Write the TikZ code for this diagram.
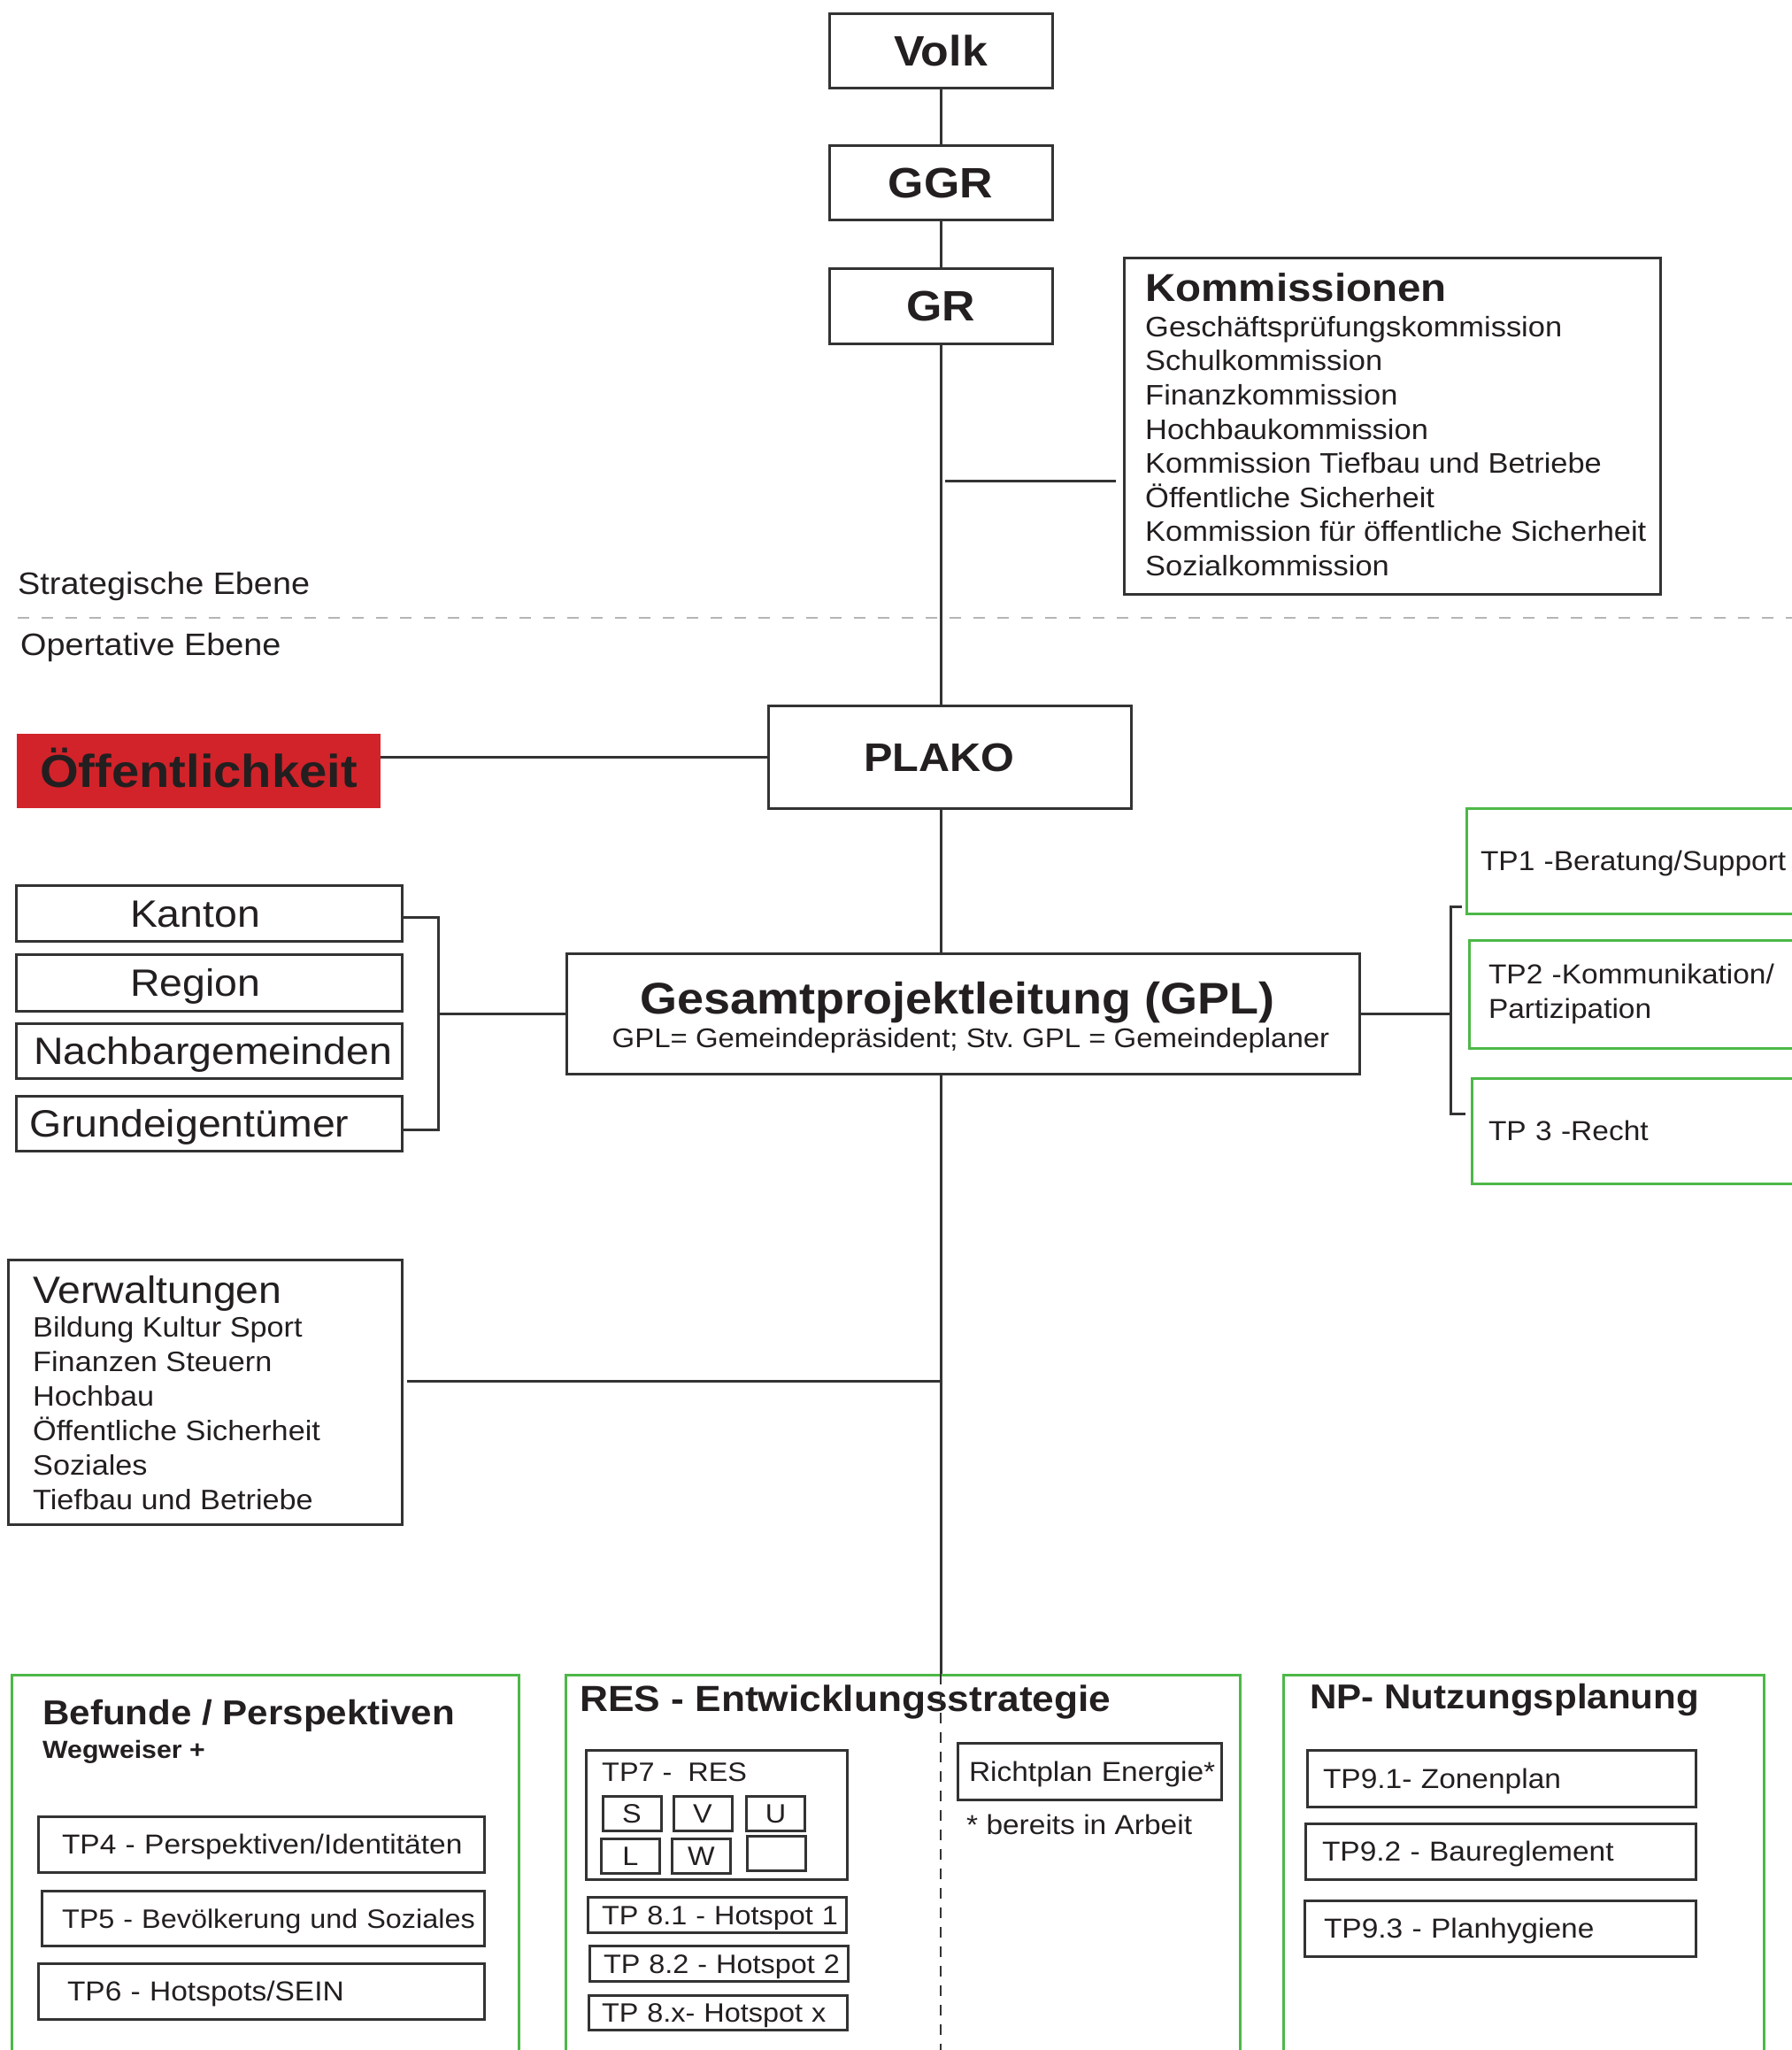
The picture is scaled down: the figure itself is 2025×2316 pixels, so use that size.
\documentclass[tikz,border=0pt]{standalone}
\usepackage{fontspec}
\setmainfont{Liberation Sans}[FakeStretch=1.08]
\frenchspacing
\hyphenpenalty=10000
\exhyphenpenalty=10000

\definecolor{ink}{HTML}{231F20}
\definecolor{frame}{HTML}{333333}
\definecolor{tpgreen}{HTML}{4DB848}
\definecolor{plred}{HTML}{D2232A}
\definecolor{levelgray}{HTML}{B5B5B5}

\newcommand{\fsz}[2]{\fontsize{#1pt}{#2pt}\selectfont}

\tikzset{
  linebox/.style={draw=frame, line width=3pt, inner sep=0pt, text=ink},
  greenframe/.style={draw=tpgreen, line width=3pt, inner sep=0pt},
  topbox/.style={linebox, minimum width=252pt, font=\bfseries\fsz{48}{56}, text height=34pt, text depth=0pt},
  sidebox/.style={linebox, align=left, font=\fsz{43}{50}, text height=31pt, text depth=0pt},
  greenbox/.style={greenframe, text=ink, align=left, inner ysep=0pt, font=\fsz{31}{39}},
  tpbox/.style={linebox, align=left, inner ysep=0pt, font=\fsz{31}{38}, text height=22pt, text depth=0pt},
  plain/.style={inner sep=0pt, text=ink},
  conn/.style={draw=frame, line width=3pt},
  levelline/.style={draw=levelgray, line width=2pt, dash pattern=on 13pt off 14pt},
  spinedash/.style={draw=frame, line width=1.8pt, dash pattern=on 12pt off 10pt}
}

\begin{document}
\begin{tikzpicture}[x=1pt, y=-1pt]
  \useasboundingbox (0,0) rectangle (2025,2316);

  % strategische Ebene
  \node[topbox, minimum height=84pt] (volk) at (1063,57) {Volk};
  \node[topbox, minimum height=84pt] (ggr) at (1063,206) {GGR};
  \node[topbox, minimum height=85pt] (gr) at (1063,345.5) {GR};

  \node[linebox, minimum width=606pt, minimum height=380pt] (komm) at (1573,481) {};
  \node[plain, anchor=base west, font=\bfseries\fsz{44}{50}] (kommtitle) at (1294,340) {Kommissionen};
  \node[plain, anchor=north west, align=left, font=\fsz{31.9}{38.6}] (kommlist) at (1294,357)
    {Geschäftsprüfungskommission\\Schulkommission\\Finanzkommission\\Hochbaukommission\\
     Kommission Tiefbau und Betriebe\\Öffentliche Sicherheit\\
     Kommission für öffentliche Sicherheit\\Sozialkommission};

  \node[plain, anchor=base west, font=\fsz{35}{42}] (strat) at (20,671) {Strategische Ebene};
  \node[plain, anchor=base west, font=\fsz{35}{42}] (oper) at (23,740) {Opertative Ebene};
  \draw[levelline] (20,698) -- (2025,698);

  % operative Ebene
  \node[linebox, align=left, font=\bfseries\fsz{45}{54}, text height=32pt, text depth=0pt,
        inner xsep=108pt, text width=194pt, minimum height=116pt] (plako) at (1073,855) {PLAKO};
  \node[fill=plred, inner sep=0pt, text=ink, minimum width=411pt, minimum height=84pt,
        font=\bfseries\fsz{52}{60}, text height=37pt, text depth=0pt] (oeff) at (224.5,871) {Öffentlichkeit};

  \node[linebox, minimum width=896pt, minimum height=136pt] (gpl) at (1088,1145.5) {};
  \node[plain, anchor=base, font=\bfseries\fsz{50}{60}] (gpltitle) at (1082,1145) {Gesamtprojektleitung (GPL)};
  \node[plain, anchor=base, font=\fsz{30.5}{37}] (gplsub) at (1097,1183) {GPL= Gemeindepräsident; Stv. GPL = Gemeindeplaner};

  \node[sidebox, inner xsep=129pt, text width=178pt, minimum height=63pt] (kanton) at (236,1031.5) {Kanton};
  \node[sidebox, inner xsep=129pt, text width=178pt, minimum height=64pt] (region) at (236,1110) {Region};
  \node[sidebox, inner xsep=20pt, text width=396pt, minimum height=62pt] (nachbar) at (236,1187) {\mbox{Nachbargemeinden}};
  \node[sidebox, inner xsep=15pt, text width=406pt, minimum height=62pt] (grund) at (236,1269) {Grundeigentümer};

  \node[greenbox, inner xsep=16pt, text width=388pt, minimum height=119pt, text height=22pt, text depth=0pt] (tp1) at (1867,972.5) {TP1 -Beratung/Support};
  \node[greenbox, inner xsep=22pt, text width=376pt, minimum height=122pt] (tp2) at (1870,1123) {TP2 -Kommunikation/\\Partizipation};
  \node[greenbox, inner xsep=19pt, text width=382pt, minimum height=119pt, text height=22pt, text depth=0pt] (tp3) at (1873,1277.5) {TP 3 -Recht};

  \node[linebox, minimum width=445pt, minimum height=299pt] (verw) at (231.5,1572.5) {};
  \node[plain, anchor=base west, font=\fsz{43}{50}] (verwtitle) at (37,1472) {Verwaltungen};
  \node[plain, anchor=north west, align=left, font=\fsz{31.7}{39}] (verwlist) at (37,1487)
    {Bildung Kultur Sport\\Finanzen Steuern\\Hochbau\\Öffentliche Sicherheit\\Soziales\\Tiefbau und Betriebe};

  % Teilprojekte unten
  \node[greenframe, minimum width=573pt, minimum height=448pt] (befunde) at (299.5,2116) {};
  \node[plain, anchor=base west, font=\bfseries\fsz{39}{46}] (befundetitle) at (48,1948) {Befunde / Perspektiven};
  \node[plain, anchor=base west, font=\bfseries\fsz{28}{34}] (wegweiser) at (48,1986) {Wegweiser +};
  \node[tpbox, minimum height=63pt, inner xsep=27pt, text width=450pt] (tp4) at (295,2083.5) {\mbox{TP4 - Perspektiven/Identitäten}};
  \node[tpbox, font=\fsz{30}{38}, minimum height=62pt, inner xsep=23pt, text width=454pt] (tp5) at (297,2167) {\mbox{TP5 - Bevölkerung und Soziales}};
  \node[tpbox, minimum height=63pt, inner xsep=33pt, text width=438pt] (tp6) at (295,2249.5) {TP6 - Hotspots/SEIN};

  \node[greenframe, minimum width=762pt, minimum height=448pt] (res) at (1020,2116) {};
  \node[plain, anchor=base west, font=\bfseries\fsz{41}{48}] (restitle) at (655,1933) {RES - Entwicklungsstrategie};
  \node[linebox, minimum width=295pt, minimum height=146pt] (tp7) at (809.5,2050) {};
  \node[plain, anchor=base west, font=\fsz{30}{36}] (tp7title) at (680,2012) {TP7 -\ \ RES};
  \foreach \nm/\cx/\cy/\txt in {s/714/2048.5/S, v/794/2048.5/V, u/876.5/2048.5/U,
                                l/712.5/2096.5/L, w/792.5/2096.5/W, e/877.5/2093.5/{}}
    \node[linebox, minimum width=66pt, minimum height=39pt, font=\fsz{30}{36}, text height=21pt, text depth=0pt] (res\nm) at (\cx,\cy) {\txt};
  \node[tpbox, font=\fsz{30}{36}, minimum height=40pt, inner xsep=16pt, text width=260pt] (tp81) at (810,2163) {\mbox{TP 8.1 - Hotspot 1}};
  \node[tpbox, font=\fsz{30}{36}, minimum height=40pt, inner xsep=16pt, text width=260pt] (tp82) at (812,2218) {\mbox{TP 8.2 - Hotspot 2}};
  \node[tpbox, font=\fsz{30}{36}, minimum height=39pt, inner xsep=15pt, text width=262pt] (tp8x) at (811,2273.5) {\mbox{TP 8.x- Hotspot x}};
  \node[tpbox, minimum height=64pt, inner xsep=13pt, text width=272pt] (richtplan) at (1231,2001) {\mbox{Richtplan Energie*}};
  \node[plain, anchor=base west, font=\fsz{31}{37}] (resnote) at (1092,2072) {* bereits in Arbeit};

  \node[greenframe, minimum width=543pt, minimum height=448pt] (np) at (1721.5,2116) {};
  \node[plain, anchor=base west, font=\bfseries\fsz{39}{46}] (nptitle) at (1480,1930) {NP- Nutzungsplanung};
  \node[tpbox, minimum height=64pt, inner xsep=18pt, text width=403pt] (tp91) at (1696.5,2009) {TP9.1- Zonenplan};
  \node[tpbox, minimum height=63pt, inner xsep=19pt, text width=403pt] (tp92) at (1695.5,2091.5) {TP9.2 - Baureglement};
  \node[tpbox, minimum height=63pt, inner xsep=22pt, text width=398pt] (tp93) at (1695,2178.5) {TP9.3 - Planhygiene};

  % Verbindungen
  \draw[conn] (volk) -- (ggr);
  \draw[conn] (ggr) -- (gr);
  \draw[conn] (gr) -- (gr |- plako.north);
  \draw[conn] (gr |- plako.south) -- (gr |- gpl.north);
  \draw[conn] (gr |- gpl.south) -- (gr |- res.north);
  \draw[spinedash] (gr |- res.north) -- (gr |- res.south);

  \coordinate (kj) at (1068,543);
  \draw[conn, shorten >=8pt] (kj) -- (kj -| komm.west);

  \draw[conn] (plako.west) -- (plako.west -| oeff.east);

  \coordinate (lj) at (495,1145.5);
  \draw[conn] ([yshift=-5pt]kanton.east) -| (lj) |- ([yshift=-7pt]grund.east);
  \draw[conn] (lj) -- (gpl.west);

  \coordinate (rj) at (1639,1145.5);
  \draw[conn] (gpl.east) -- (rj);
  \draw[conn] ([xshift=-4pt,yshift=9pt]tp1.south west) -| (rj) |- ([xshift=-6pt,yshift=-42pt]tp3.north west);

  \coordinate (vj) at (460,1560);
  \draw[conn] (vj) -- (vj -| gr);
\end{tikzpicture}
\end{document}
